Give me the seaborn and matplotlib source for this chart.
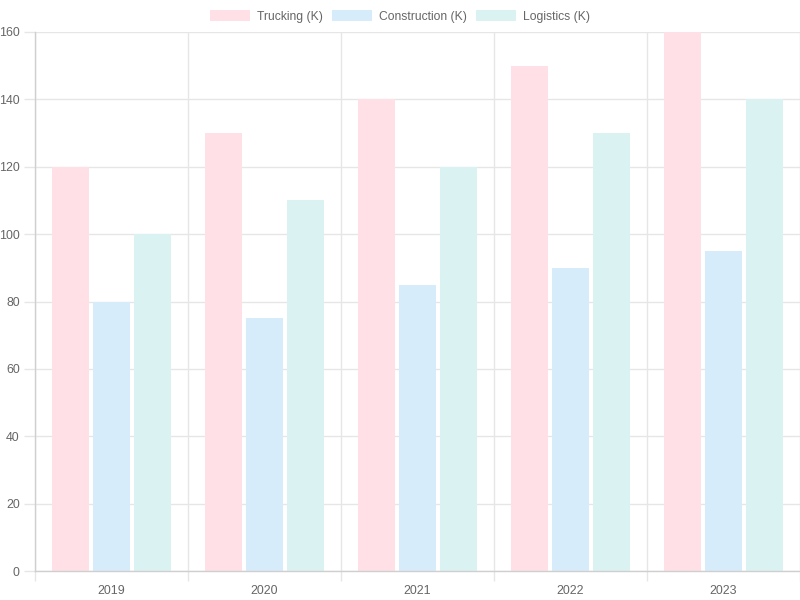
import matplotlib
matplotlib.use("Agg")
import matplotlib.pyplot as plt
import seaborn as sns
import pandas as pd
import numpy as np
from matplotlib.patches import Patch

years = ["2019", "2020", "2021", "2022", "2023"]
series_names = ["Trucking (K)", "Construction (K)", "Logistics (K)"]
trucking = [120, 130, 140, 150, 160]
construction = [80, 75, 85, 90, 95]
logistics = [100, 110, 120, 130, 140]
y_ticks = [0, 20, 40, 60, 80, 100, 120, 140, 160]

colors = ["#FFE0E6", "#D7ECFB", "#DBF2F2"]

sns.set_theme(style="white")
plt.rcParams['font.family'] = ['Liberation Sans', 'DejaVu Sans']

df = pd.DataFrame({
    "year": years * 3,
    "series": [series_names[0]] * 5 + [series_names[1]] * 5 + [series_names[2]] * 5,
    "value": trucking + construction + logistics,
})

fig = plt.figure(figsize=(8, 6), dpi=100)
ax = fig.add_axes([35 / 800, 29 / 600, 765 / 800, 539 / 600])

sns.barplot(data=df, x="year", y="value", hue="series", palette=colors,
            width=0.8, gap=0.1, ax=ax, legend=False, saturation=1,
            linewidth=0, edgecolor="none")

ax.set_xlim(-0.5, 4.5)
ax.set_ylim(0, 160)
ax.set_yticks(y_ticks)
ax.set_xlabel("")
ax.set_ylabel("")

grid_c = "#e6e6e6"
ax.set_xticks(np.arange(-0.5, 5.0, 1.0), minor=True)
ax.grid(False)
ax.grid(True, axis="y", which="major", color=grid_c, linewidth=1)
ax.grid(True, axis="x", which="minor", color=grid_c, linewidth=1)
ax.set_axisbelow(True)

ax.tick_params(axis="x", which="major", length=0, pad=10, labelsize=8.9, labelcolor="#666666")
ax.tick_params(axis="x", which="minor", length=7, color=grid_c, width=1, bottom=True)
ax.tick_params(axis="y", which="major", length=8, color=grid_c, width=1, pad=3,
               labelsize=8.9, labelcolor="#666666", left=True)

for s in ["top", "right"]:
    ax.spines[s].set_visible(False)
for s in ["left", "bottom"]:
    ax.spines[s].set_color("#cfcfcf")
    ax.spines[s].set_linewidth(1)

handles = [Patch(facecolor=c, edgecolor="none") for c in colors]
fig.legend(handles, series_names, loc="center", bbox_to_anchor=(0.5, 1 - 16.5 / 600),
           ncol=3, frameon=False, fontsize=8.7, labelcolor="#666666",
           handlelength=3.3, handleheight=1.0, handletextpad=0.6, columnspacing=0.75)

fig.savefig("out.png", dpi=100)
